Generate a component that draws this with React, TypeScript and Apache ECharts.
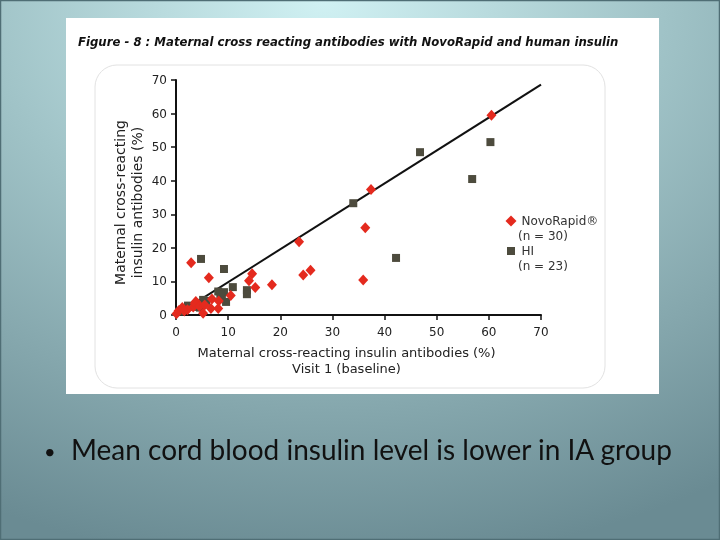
import React, { useEffect, useRef } from "react";
import * as echarts from "echarts";

const titleText = "Figure - 8 : Maternal cross reacting antibodies with NovoRapid and human insulin";
const bulletText = "Mean cord blood insulin level is lower in IA group";
const xAxisTitle = "Maternal cross-reacting insulin antibodies (%)\nVisit 1 (baseline)";
const yAxisTitle = "Maternal cross-reacting\ninsulin antibodies (%)";
const axisTicks = [0, 10, 20, 30, 40, 50, 60, 70];

const novoRapid: number[][] = [
  [60.5, 59.5], [37.4, 37.4], [23.6, 21.8], [36.3, 26.0], [35.9, 10.4],
  [24.4, 11.9], [25.8, 13.3], [18.4, 9.0], [14.6, 12.3], [14.0, 10.2],
  [15.2, 8.2], [2.9, 15.6], [6.3, 11.1], [10.5, 5.8], [6.9, 4.8],
  [8.2, 4.2], [6.7, 1.9], [8.1, 1.9], [3.8, 4.0], [3.3, 2.4],
  [4.2, 3.3], [5.2, 0.5], [1.2, 2.2], [0.5, 1.3], [0.1, 0.4],
  [3.6, 3.5], [4.5, 2.6], [2.2, 1.6], [1.6, 1.2], [5.5, 3.0],
];

const humanInsulin: number[][] = [
  [46.8, 48.5], [60.3, 51.5], [56.8, 40.5], [34.0, 33.3], [42.2, 17.0],
  [4.8, 16.7], [9.2, 13.7], [10.9, 8.3], [13.6, 7.4], [13.6, 6.2],
  [8.1, 7.0], [9.2, 6.8], [8.8, 5.4], [9.6, 3.9], [5.2, 4.5],
  [5.0, 3.3], [4.6, 2.2], [2.3, 2.8], [1.3, 1.6], [0.6, 1.0],
  [5.8, 4.2], [3.5, 2.4], [8.5, 6.0],
];

const fitLine: number[][] = [[4, 3.9], [70, 68.6]];

export default function App() {
  const ref = useRef<HTMLDivElement>(null);
  useEffect(() => {
    if (!ref.current) return;
    const chart = echarts.init(ref.current, undefined, { renderer: "svg" });
    const axisFont = "DejaVu Sans, Verdana, sans-serif";
    chart.setOption({
      animation: false,
      backgroundColor: new echarts.graphic.RadialGradient(0.45, 0.0, 1.05, [
        { offset: 0, color: "#d0f1f3" },
        { offset: 0.45, color: "#a0c3c7" },
        { offset: 1, color: "#6a8b93" },
      ]),
      graphic: [
        { type: "rect", z: -11, shape: { x: 0.5, y: 0.5, width: 719, height: 539 }, style: { fill: "none", stroke: "#4f6e75", lineWidth: 1.5 } },
        { type: "rect", z: -10, shape: { x: 66, y: 18, width: 593, height: 376 }, style: { fill: "#ffffff" } },
        { type: "rect", z: -9, shape: { x: 95, y: 65, width: 510, height: 323, r: 22 }, style: { fill: "none", stroke: "#e2e2e2", lineWidth: 1 } },
        {
          type: "text", left: 78, top: 35,
          style: { text: titleText, font: "italic bold 13px 'Liberation Sans Narrow', 'DejaVu Sans Condensed', 'Liberation Sans', sans-serif", fill: "#111" },
        },
        {
          type: "text", left: 518, top: 230,
          style: { text: "(n = " + novoRapid.length + ")", font: "12px " + axisFont, fill: "#333" },
        },
        {
          type: "text", left: 518, top: 260,
          style: { text: "(n = " + humanInsulin.length + ")", font: "12px " + axisFont, fill: "#333" },
        },
        { type: "text", left: 44, top: 441, style: { text: "•", font: "20px Lato, sans-serif", fill: "#111" } },
        { type: "text", left: 71, top: 435, style: { text: bulletText, font: "28px Lato, 'Open Sans', sans-serif", fill: "#111" } },
      ],
      grid: { left: 176, right: 179, top: 80, bottom: 225 },
      legend: {
        orient: "vertical", left: 499, top: 210, itemWidth: 11, itemHeight: 11, itemGap: 17,
        data: [
          { name: "NovoRapid®", icon: "diamond" },
          { name: "HI", icon: "rect", itemStyle: { borderColor: "#ffffff", borderWidth: 3 } },
        ],
        textStyle: { fontSize: 12, fontFamily: axisFont, color: "#333" },
      },
      xAxis: {
        type: "value", min: axisTicks[0], max: axisTicks[axisTicks.length - 1], interval: 10,
        name: xAxisTitle, nameLocation: "middle", nameGap: 29,
        nameTextStyle: { fontSize: 13, fontFamily: axisFont, color: "#222", lineHeight: 16, padding: [0, 24, 0, 0] },
        axisLine: { lineStyle: { color: "#111", width: 2 } },
        axisTick: { show: true, length: 5, lineStyle: { color: "#111", width: 1.5 } },
        axisLabel: { fontSize: 12, fontFamily: axisFont, color: "#222", margin: 11 },
        splitLine: { show: false },
      },
      yAxis: {
        type: "value", min: axisTicks[0], max: axisTicks[axisTicks.length - 1], interval: 10,
        name: yAxisTitle, nameLocation: "middle", nameGap: 31, nameMoveOverlap: false,
        nameTextStyle: { fontSize: 14, fontFamily: axisFont, color: "#222", lineHeight: 17, padding: [0, 10, 0, 0] },
        axisLine: { show: true, lineStyle: { color: "#111", width: 2 } },
        axisTick: { show: true, length: 5, lineStyle: { color: "#111", width: 1.5 } },
        axisLabel: { fontSize: 12, fontFamily: axisFont, color: "#222", margin: 9 },
        splitLine: { show: false },
      },
      series: [
        {
          type: "line", data: fitLine, symbol: "none", silent: true,
          lineStyle: { color: "#111", width: 2 }, z: 1,
        },
        {
          name: "HI", type: "scatter", data: humanInsulin, symbol: "rect", symbolSize: 8,
          itemStyle: { color: "#4d4b3d", opacity: 1 }, z: 2,
        },
        {
          name: "NovoRapid®", type: "scatter", data: novoRapid, symbol: "diamond", symbolSize: [10, 11],
          itemStyle: { color: "#e42a1e", opacity: 1 }, z: 3,
        },
      ],
    });
    return () => chart.dispose();
  }, []);
  return <div ref={ref} style={{ position: "fixed", left: 0, top: 0, width: 720, height: 540 }} />;
}
